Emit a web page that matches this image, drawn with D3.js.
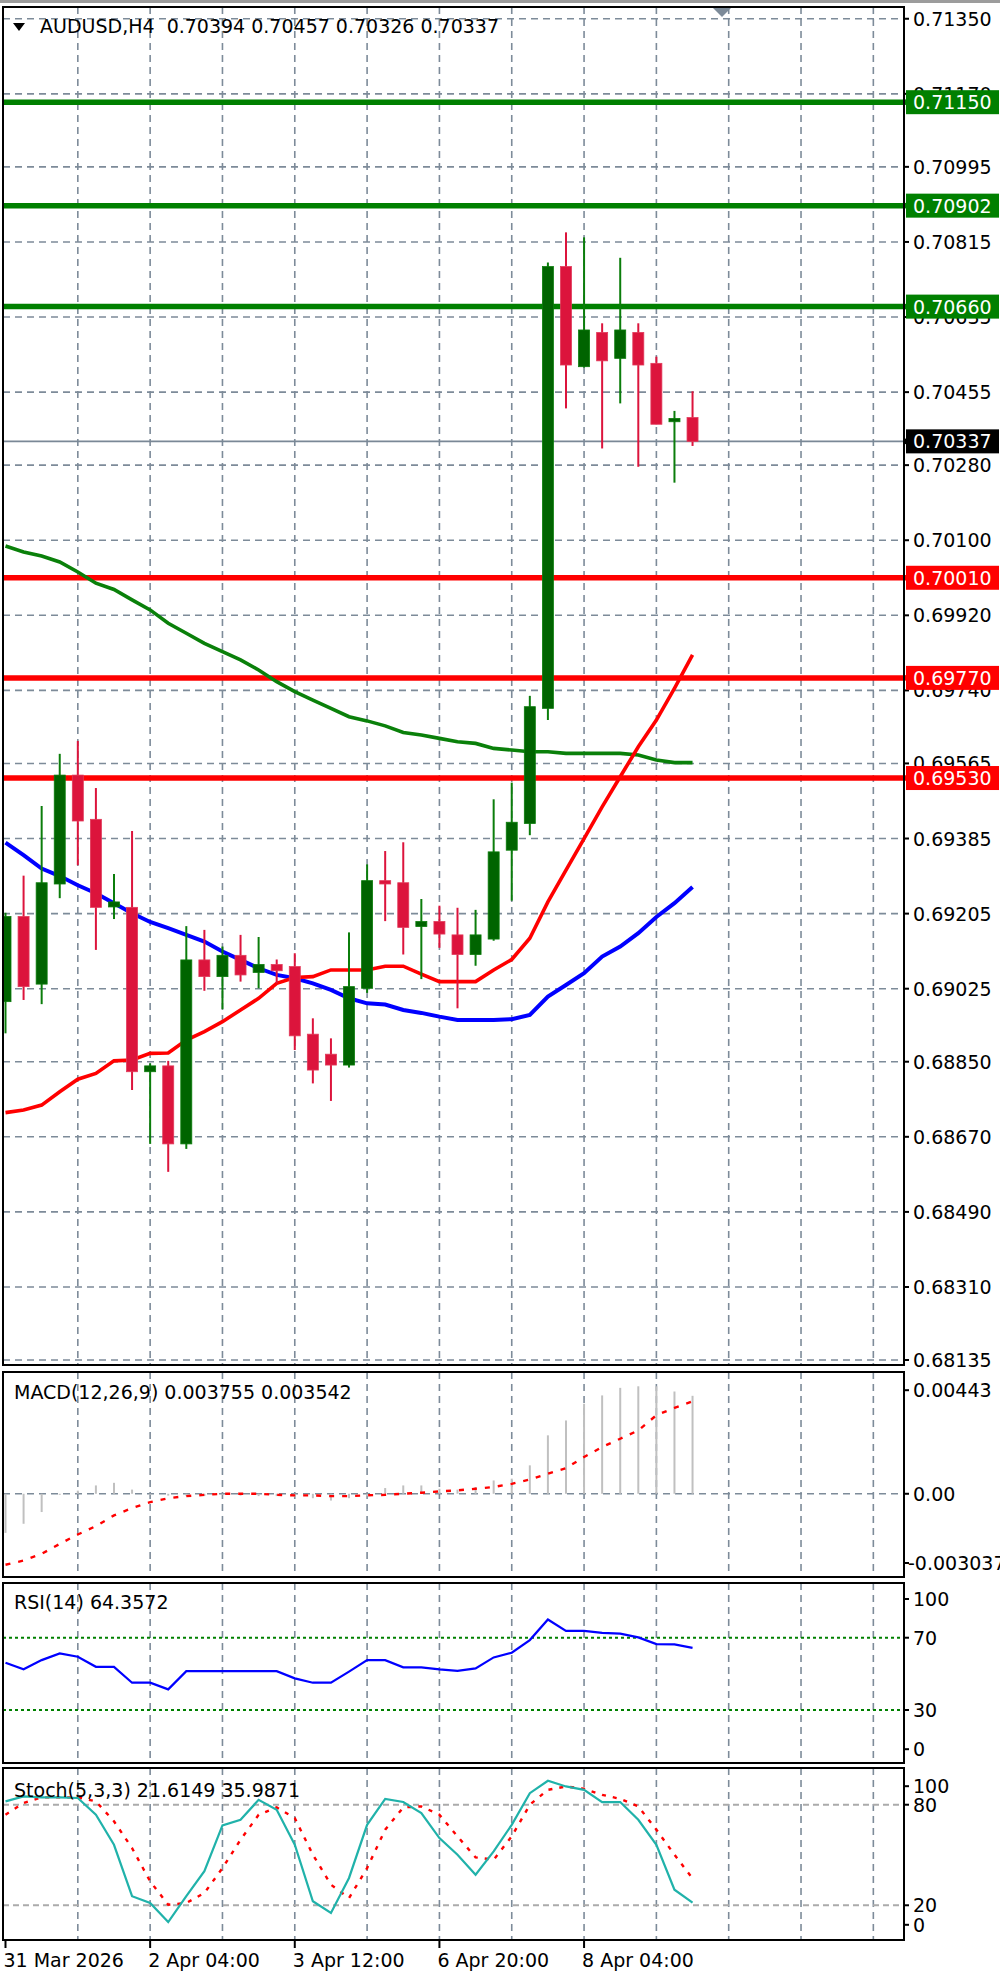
<!DOCTYPE html>
<html><head><meta charset="utf-8">
<script src="https://cdn.jsdelivr.net/npm/d3@7"></script>
<style>
html,body{margin:0;padding:0;background:#fff;}
svg{display:block;}
text{font-family:"DejaVu Sans",sans-serif;font-size:19px;}
</style></head><body>
<svg id="c" width="1000" height="1980"></svg>
<script>
// ---------------- DATA ----------------
const symbolTitle = "AUDUSD,H4  0.70394 0.70457 0.70326 0.70337";
const openP  = [0.68994,0.69198,0.69036,0.69276,0.69537,0.69431,0.69221,0.69220,0.68826,0.68840,0.68653,0.69094,0.69054,0.69105,0.69064,0.69083,0.69078,0.68916,0.68868,0.68842,0.69026,0.69284,0.69279,0.69174,0.69186,0.69154,0.69107,0.69144,0.69357,0.69421,0.69697,0.70756,0.70516,0.70598,0.70536,0.70598,0.70524,0.70384,0.70394];
const highP  = [0.69207,0.69296,0.69463,0.69588,0.69619,0.69506,0.69300,0.69403,0.68846,0.68852,0.69175,0.69166,0.69126,0.69154,0.69149,0.69095,0.69110,0.68954,0.68906,0.69160,0.69323,0.69355,0.69376,0.69240,0.69224,0.69219,0.69214,0.69479,0.69519,0.69727,0.70766,0.70838,0.70826,0.70620,0.70777,0.70620,0.70540,0.70410,0.70457];
const lowP   = [0.68918,0.68998,0.68988,0.69242,0.69321,0.69118,0.69192,0.68782,0.68653,0.68586,0.68641,0.69020,0.68976,0.69042,0.69026,0.69038,0.68878,0.68798,0.68756,0.68836,0.69015,0.69187,0.69107,0.69048,0.69123,0.68978,0.69080,0.69140,0.69236,0.69393,0.69669,0.70416,0.70514,0.70320,0.70428,0.70276,0.70378,0.70238,0.70326];
const closeP = [0.69198,0.69030,0.69279,0.69537,0.69427,0.69220,0.69233,0.68826,0.68840,0.68653,0.69094,0.69054,0.69105,0.69058,0.69083,0.69068,0.68912,0.68830,0.68842,0.69030,0.69284,0.69276,0.69172,0.69186,0.69156,0.69107,0.69154,0.69353,0.69424,0.69701,0.70756,0.70520,0.70604,0.70530,0.70604,0.70520,0.70378,0.70392,0.70337];

const maRed   = [0.68728,0.68734,0.68746,0.68778,0.68808,0.68822,0.68852,0.68854,0.68870,0.68871,0.68902,0.68922,0.68946,0.68974,0.69002,0.69038,0.69052,0.69054,0.69070,0.69070,0.69070,0.69079,0.69079,0.69060,0.69042,0.69042,0.69042,0.69070,0.69095,0.69146,0.69233,0.69309,0.69385,0.69461,0.69533,0.69605,0.69669,0.69745,0.69825];
const maBlue  = [0.69375,0.69345,0.69313,0.69295,0.69273,0.69254,0.69230,0.69206,0.69185,0.69170,0.69154,0.69138,0.69114,0.69094,0.69074,0.69058,0.69050,0.69038,0.69022,0.69002,0.68990,0.68987,0.68974,0.68967,0.68958,0.68950,0.68950,0.68950,0.68952,0.68962,0.69006,0.69034,0.69062,0.69102,0.69126,0.69158,0.69197,0.69230,0.69269];
const maGreen = [0.70086,0.70072,0.70062,0.70048,0.70024,0.69997,0.69982,0.69957,0.69933,0.69901,0.69877,0.69853,0.69833,0.69813,0.69789,0.69761,0.69737,0.69717,0.69697,0.69677,0.69667,0.69655,0.69639,0.69633,0.69625,0.69617,0.69613,0.69601,0.69597,0.69593,0.69593,0.69589,0.69589,0.69589,0.69589,0.69585,0.69573,0.69567,0.69567];

const resistanceLevels = [0.71150, 0.70902, 0.70660];
const supportLevels    = [0.70010, 0.69770, 0.69530];
const lastPrice = 0.70337;

const priceTickLabels = ["0.71350","0.71170","0.70995","0.70815","0.70635","0.70455","0.70280","0.70100","0.69920","0.69740","0.69565","0.69385","0.69205","0.69025","0.68850","0.68670","0.68490","0.68310","0.68135"];

const macdTitle = "MACD(12,26,9) 0.003755 0.003542";
const macdHist = [-0.00150,-0.00115,-0.00070,-0.00004,0.00012,0.00032,0.00042,0.00016,-0.00004,-0.00007,-0.00007,-0.00009,-0.00004,-0.00007,-0.00009,-0.00009,-0.00013,-0.00017,-0.00026,-0.00017,-0.00009,0.00022,0.00032,0.00032,0.00019,0.00016,0.00026,0.00051,0.00058,0.00109,0.00224,0.00281,0.00345,0.00377,0.00406,0.00412,0.00412,0.00392,0.003755];
const macdSignal = [-0.00272,-0.00256,-0.00230,-0.00192,-0.00156,-0.00124,-0.00083,-0.00055,-0.00032,-0.00017,-0.00009,-0.00004,0.00000,0.00000,0.00000,-0.00004,-0.00006,-0.00006,-0.00009,-0.00009,-0.00006,-0.00004,0.00000,0.00004,0.00009,0.00013,0.00019,0.00026,0.00038,0.00055,0.00077,0.00098,0.00141,0.00179,0.00211,0.00243,0.00301,0.00329,0.003542];
const macdAxisLabels = ["0.00443","0.00","-0.003037"];
const macdAxisValues = [0.00443, 0, -0.003037];

const rsiTitle = "RSI(14) 64.3572";
const rsiValues = [56.1,52.5,57.6,61.3,59.5,53.9,53.9,45.1,45.1,41.4,51.5,51.5,51.5,51.5,51.5,51.5,47.5,45.1,45.1,51.2,57.6,57.6,53.6,53.6,52.5,51.7,53.0,59.1,61.7,68.7,80.1,73.8,73.8,72.7,72.3,70.2,66.5,66.3,64.36];
const rsiLevels = [70, 30];
const rsiAxisValues = [100, 70, 30, 0];

const stochTitle = "Stoch(5,3,3) 21.6149 35.9871";
const stochK = [82.0,85.0,84.4,84.4,84.0,74.0,56.1,25.4,21.4,10.0,25.4,40.3,67.7,71.0,82.9,77.0,56.1,22.4,15.4,36.3,68.0,83.5,81.6,75.0,60.1,50.2,38.2,52.2,68.0,86.9,94.3,90.9,88.9,81.6,81.6,71.0,56.1,29.3,21.6];
const stochD = [74.0,81.0,84.4,84.4,84.4,82.0,70.1,54.1,34.3,20.3,21.4,27.3,42.2,59.1,74.0,78.4,72.0,50.2,32.3,24.3,42.2,65.1,78.4,79.0,74.0,61.1,48.6,47.2,61.1,80.0,88.9,90.9,89.5,85.9,83.5,79.0,65.1,50.2,36.0];
const stochLevels = [80, 20];
const stochAxisValues = [100, 80, 20, 0];

const timeLabels = ["31 Mar 2026","2 Apr 04:00","3 Apr 12:00","6 Apr 20:00","8 Apr 04:00"];
const timeLabelBars = [0, 8, 16, 24, 32];

// ---------------- LAYOUT ----------------
const svg = d3.select("#c");
const PL = 3, PR = 904;
const P = {main:[7,1365], macd:[1372,1577], rsi:[1583,1763], stoch:[1768,1940]};
const x  = d3.scaleLinear().domain([0,48]).range([5.5, 5.5 + 18.08*48]);
const y  = d3.scaleLinear().domain([0.68135,0.71350]).range([1360.0,18.75]);
const yM = d3.scaleLinear().domain([-0.003037,0.00443]).range([1573,1378.2]);
const yR = d3.scaleLinear().domain([0,100]).range([1764.2,1583.5]);
const yS = d3.scaleLinear().domain([0,100]).range([1938.8,1771.2]);
const idx = d3.range(openP.length);
const gridColor = "#7d8b99";

svg.append("rect").attr("x",0).attr("y",0).attr("width",1000).attr("height",1980).attr("fill","#fff");
svg.append("rect").attr("x",0).attr("y",0).attr("width",1000).attr("height",3).attr("fill","#9c9c9c");

const defs = svg.append("defs");
Object.entries(P).forEach(([k,[t,b]])=>{
  defs.append("clipPath").attr("id","clip-"+k).append("rect")
    .attr("x",PL+1).attr("y",t+1).attr("width",PR-PL-2).attr("height",b-t-2);
});

// vertical grid in all panes
const gridBars = d3.range(4, 49, 4);
Object.entries(P).forEach(([k,[t,b]])=>{
  svg.append("g").selectAll("line").data(gridBars).join("line")
    .attr("x1",d=>x(d)).attr("x2",d=>x(d)).attr("y1",t).attr("y2",b)
    .attr("stroke",gridColor).attr("stroke-width",1.6).attr("stroke-dasharray","7,5");
});

// ---------------- MAIN PANE ----------------
const priceTicks = priceTickLabels.map(Number);
const gMain = svg.append("g").attr("clip-path","url(#clip-main)");
gMain.append("g").selectAll("line").data(priceTicks).join("line")
  .attr("x1",PL).attr("x2",PR).attr("y1",d=>y(d)).attr("y2",d=>y(d))
  .attr("stroke",gridColor).attr("stroke-width",1.6).attr("stroke-dasharray","7,5");

// level lines
gMain.append("g").selectAll("line").data(resistanceLevels).join("line")
  .attr("x1",PL).attr("x2",PR).attr("y1",d=>y(d)).attr("y2",d=>y(d))
  .attr("stroke","#008000").attr("stroke-width",5.5);
gMain.append("g").selectAll("line").data(supportLevels).join("line")
  .attr("x1",PL).attr("x2",PR).attr("y1",d=>y(d)).attr("y2",d=>y(d))
  .attr("stroke","#ff0000").attr("stroke-width",5.5);
// last price line
gMain.append("line").attr("x1",PL).attr("x2",PR).attr("y1",y(lastPrice)).attr("y2",y(lastPrice))
  .attr("stroke","#7a8896").attr("stroke-width",1.6);

// moving averages
const maLine = d3.line().x((d,i)=>x(i)).y(d=>y(d));
gMain.append("path").attr("d",maLine(maGreen)).attr("fill","none").attr("stroke","#0a800a").attr("stroke-width",3.6);
gMain.append("path").attr("d",maLine(maBlue)).attr("fill","none").attr("stroke","#0000ff").attr("stroke-width",4);
gMain.append("path").attr("d",maLine(maRed)).attr("fill","none").attr("stroke","#ff0000").attr("stroke-width",3.6);

// candles
const bullFill = "#006400", bearFill = "#dc143c";
const isBull = i => closeP[i] >= openP[i];
gMain.append("g").selectAll("line").data(idx).join("line")
  .attr("x1",i=>x(i)).attr("x2",i=>x(i)).attr("y1",i=>y(highP[i])).attr("y2",i=>y(lowP[i]))
  .attr("stroke",i=>isBull(i)?"#0b7d0b":bearFill).attr("stroke-width",2);
gMain.append("g").selectAll("rect").data(idx).join("rect")
  .attr("x",i=>x(i)-5.5).attr("width",11)
  .attr("y",i=>Math.min(y(openP[i]),y(closeP[i])))
  .attr("height",i=>Math.max(2.5,Math.abs(y(openP[i])-y(closeP[i]))))
  .attr("fill",i=>isBull(i)?bullFill:bearFill)
  .attr("stroke",i=>isBull(i)?"#0b7d0b":"#e23a5a").attr("stroke-width",0.8);

// header
svg.append("path").attr("d","M13,23 L25,23 L19,31 Z").attr("fill","#000");
svg.append("text").attr("x",40).attr("y",32.5).attr("fill","#000").style("white-space","pre").text(symbolTitle);
// shift marker
svg.append("path").attr("d","M713,8 L731,8 L722,17 Z").attr("fill","#7d8b99");

// right price axis
const axMain = svg.append("g");
axMain.selectAll("line").data(priceTicks).join("line")
  .attr("x1",PR).attr("x2",PR+5).attr("y1",d=>y(d)).attr("y2",d=>y(d))
  .attr("stroke","#000").attr("stroke-width",2);
axMain.selectAll("text").data(priceTickLabels).join("text")
  .attr("x",913).attr("y",d=>y(+d)+7).attr("fill","#000").text(d=>d);

function levelBox(v, color, textColor){
  svg.append("line").attr("x1",PR).attr("x2",908).attr("y1",y(v)).attr("y2",y(v)).attr("stroke",color).attr("stroke-width",5.5);
  svg.append("rect").attr("x",906).attr("y",y(v)-12).attr("width",93).attr("height",24).attr("fill",color);
  svg.append("text").attr("x",913).attr("y",y(v)+7).attr("fill",textColor).text(d3.format(".5f")(v));
}
resistanceLevels.forEach(v=>levelBox(v,"#008000","#ffffff"));
supportLevels.forEach(v=>levelBox(v,"#ff0000","#ffffff"));
levelBox(lastPrice,"#000000","#ffffff");

// ---------------- MACD ----------------
const gMacd = svg.append("g").attr("clip-path","url(#clip-macd)");
gMacd.append("line").attr("x1",PL).attr("x2",PR).attr("y1",yM(0)).attr("y2",yM(0))
  .attr("stroke",gridColor).attr("stroke-width",1.6).attr("stroke-dasharray","7,5");
gMacd.append("g").selectAll("line").data(idx).join("line")
  .attr("x1",i=>x(i)).attr("x2",i=>x(i)).attr("y1",yM(0)).attr("y2",i=>yM(macdHist[i]))
  .attr("stroke","#c0c0c0").attr("stroke-width",2);
gMacd.append("path").attr("d",d3.line().x((d,i)=>x(i)).y(d=>yM(d))(macdSignal))
  .attr("fill","none").attr("stroke","#ff0000").attr("stroke-width",2.4).attr("stroke-dasharray","5,8");
svg.append("text").attr("x",14).attr("y",1399).attr("fill","#000").text(macdTitle);
const macdLabY = [yM(macdAxisValues[0])+12, yM(0), yM(macdAxisValues[2])-10];
macdAxisLabels.forEach((t,i)=>{
  svg.append("line").attr("x1",PR).attr("x2",PR+5).attr("y1",macdLabY[i]).attr("y2",macdLabY[i]).attr("stroke","#000").attr("stroke-width",2);
  svg.append("text").attr("x",i===2?908:913).attr("y",macdLabY[i]+7).attr("fill","#000").text(t);
});

// ---------------- RSI ----------------
const gRsi = svg.append("g").attr("clip-path","url(#clip-rsi)");
gRsi.append("g").selectAll("line").data(rsiLevels).join("line")
  .attr("x1",PL).attr("x2",PR).attr("y1",d=>yR(d)).attr("y2",d=>yR(d))
  .attr("stroke","#008000").attr("stroke-width",2).attr("stroke-dasharray","3,3");
gRsi.append("path").attr("d",d3.line().x((d,i)=>x(i)).y(d=>yR(d))(rsiValues))
  .attr("fill","none").attr("stroke","#0000ff").attr("stroke-width",2.2);
svg.append("text").attr("x",14).attr("y",1609).attr("fill","#000").text(rsiTitle);
rsiAxisValues.forEach(v=>{
  const yy = v===100 ? yR(v)+15.5 : (v===0 ? yR(v)-15 : yR(v));
  svg.append("line").attr("x1",PR).attr("x2",PR+5).attr("y1",yy).attr("y2",yy).attr("stroke","#000").attr("stroke-width",2);
  svg.append("text").attr("x",913).attr("y",yy+7).attr("fill","#000").text(v);
});

// ---------------- STOCH ----------------
const gSt = svg.append("g").attr("clip-path","url(#clip-stoch)");
gSt.append("g").selectAll("line").data(stochLevels).join("line")
  .attr("x1",PL).attr("x2",PR).attr("y1",d=>yS(d)).attr("y2",d=>yS(d))
  .attr("stroke","#ababab").attr("stroke-width",2).attr("stroke-dasharray","6,4");
gSt.append("path").attr("d",d3.line().x((d,i)=>x(i)).y(d=>yS(d))(stochD))
  .attr("fill","none").attr("stroke","#ff0000").attr("stroke-width",2.4).attr("stroke-dasharray","4,7");
gSt.append("path").attr("d",d3.line().x((d,i)=>x(i)).y(d=>yS(d))(stochK))
  .attr("fill","none").attr("stroke","#20b2aa").attr("stroke-width",2.2);
svg.append("text").attr("x",14).attr("y",1797).attr("fill","#000").text(stochTitle);
stochAxisValues.forEach(v=>{
  const yy = v===100 ? yS(v)+15 : (v===0 ? yS(v)-14 : yS(v));
  svg.append("line").attr("x1",PR).attr("x2",PR+5).attr("y1",yy).attr("y2",yy).attr("stroke","#000").attr("stroke-width",2);
  svg.append("text").attr("x",913).attr("y",yy+7).attr("fill","#000").text(v);
});

// ---------------- FRAMES ----------------
Object.values(P).forEach(([t,b])=>{
  svg.append("rect").attr("x",PL).attr("y",t).attr("width",PR-PL).attr("height",b-t)
    .attr("fill","none").attr("stroke","#000").attr("stroke-width",2);
});

// ---------------- TIME AXIS ----------------
svg.append("g").selectAll("line").data(timeLabelBars).join("line")
  .attr("x1",d=>x(d)).attr("x2",d=>x(d)).attr("y1",P.stoch[1]).attr("y2",P.stoch[1]+8)
  .attr("stroke","#000").attr("stroke-width",2);
svg.append("g").selectAll("text").data(timeLabels).join("text")
  .attr("x",(d,i)=>x(timeLabelBars[i])-2).attr("y",1967).attr("fill","#000").text(d=>d);
</script>
</body></html>
